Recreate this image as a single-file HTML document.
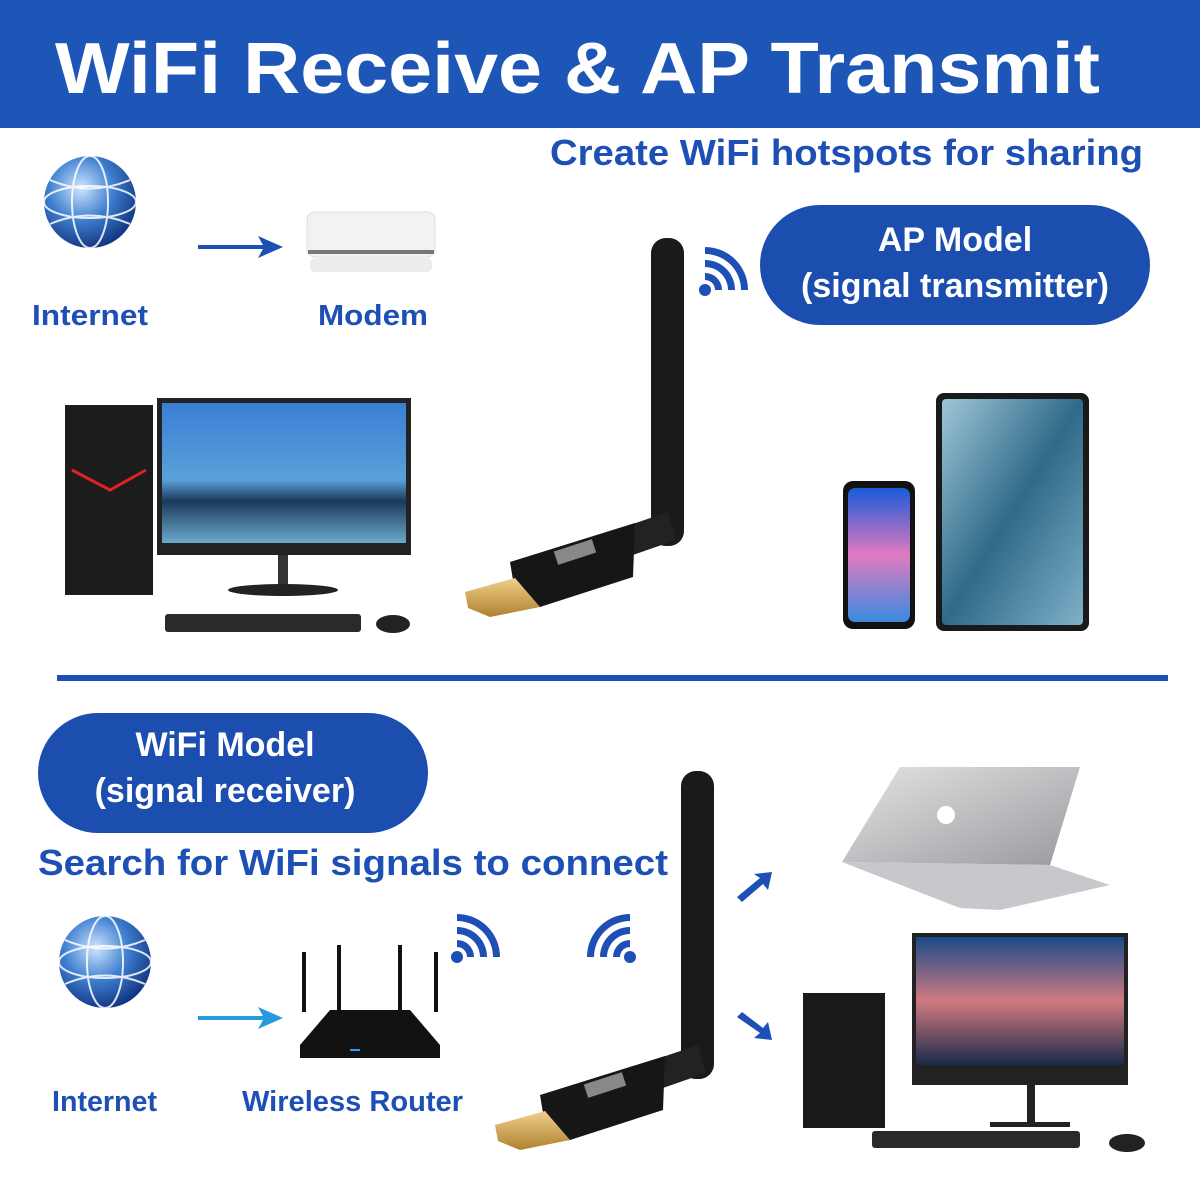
<!DOCTYPE html>
<html><head><meta charset="utf-8"><style>
html,body{margin:0;padding:0;background:#fff;}
svg{display:block}
text{font-family:"Liberation Sans",Arial,sans-serif;font-weight:bold}
</style></head><body>
<svg width="1200" height="1200" viewBox="0 0 1200 1200" xmlns="http://www.w3.org/2000/svg">
<defs>
<radialGradient id="glb" cx="0.4" cy="0.35" r="0.7"><stop offset="0" stop-color="#cfe6ff"/><stop offset="0.5" stop-color="#3f7fd0"/><stop offset="1" stop-color="#0d2f7a"/></radialGradient>
<linearGradient id="scr1" x1="0" y1="0" x2="0" y2="1"><stop offset="0" stop-color="#3b7fd6"/><stop offset="0.55" stop-color="#5aa0d8"/><stop offset="0.7" stop-color="#1c3a5a"/><stop offset="1" stop-color="#6aa9cc"/></linearGradient>
<linearGradient id="scr2" x1="0" y1="0" x2="0" y2="1"><stop offset="0" stop-color="#1a4a8a"/><stop offset="0.5" stop-color="#d07a80"/><stop offset="1" stop-color="#1a2a4a"/></linearGradient>
<linearGradient id="tab" x1="0" y1="0" x2="1" y2="1"><stop offset="0" stop-color="#9fc6d8"/><stop offset="0.5" stop-color="#2f6a88"/><stop offset="1" stop-color="#7fb0c8"/></linearGradient>
<linearGradient id="ph" x1="0" y1="0" x2="0" y2="1"><stop offset="0" stop-color="#1a5ad8"/><stop offset="0.5" stop-color="#e07ac0"/><stop offset="1" stop-color="#3a8ae0"/></linearGradient>
<linearGradient id="lap" x1="0" y1="0" x2="1" y2="1"><stop offset="0" stop-color="#e4e4e6"/><stop offset="1" stop-color="#9a9a9e"/></linearGradient>
<linearGradient id="gold" x1="0" y1="0" x2="0" y2="1"><stop offset="0" stop-color="#f0d08a"/><stop offset="1" stop-color="#b08030"/></linearGradient>
<g id="wifi" fill="#1d4fb5"><circle cx="0" cy="0" r="6"/><path d="M0,-17 A17,17 0 0 1 17,0 L10,0 A10,10 0 0 0 0,-10Z"/><path d="M0,-30 A30,30 0 0 1 30,0 L23,0 A23,23 0 0 0 0,-23Z"/><path d="M0,-43 A43,43 0 0 1 43,0 L36,0 A36,36 0 0 0 0,-36Z"/></g>
<g id="globe"><circle r="46" fill="url(#glb)"/><g fill="none" stroke="#fff" stroke-width="2" opacity="0.85"><ellipse rx="46" ry="16"/><ellipse rx="18" ry="46"/><path d="M-40,-22 Q0,-5 40,-22 M-40,22 Q0,5 40,22"/></g></g>
<g id="ant">
<rect x="651" y="238" width="33" height="308" rx="15" fill="#1a1a1a"/>
<path d="M615,530 L668,512 L676,540 L630,556 Z" fill="#222"/>
<path d="M510,562 L635,523 L633,577 L540,607 L515,592 Z" fill="#161616"/>
<path d="M465,592 L515,578 L540,607 L490,617 L468,608 Z" fill="url(#gold)"/>
<rect x="555" y="545" width="40" height="14" fill="#888" transform="rotate(-18 575 552)"/>
</g>
</defs>
<rect x="0" y="0" width="1200" height="128" fill="#1e56b8"/>
<text x="55" y="93" font-size="72" fill="#fff" textLength="1045" lengthAdjust="spacingAndGlyphs">WiFi Receive &amp; AP Transmit</text>
<text x="550" y="165" font-size="36" fill="#1d4fb5" textLength="593" lengthAdjust="spacingAndGlyphs">Create WiFi hotspots for sharing</text>
<use href="#globe" x="90" y="202"/>
<line x1="198" y1="247" x2="270" y2="247" stroke="#1d4fb5" stroke-width="4"/><path d="M283,247 L258,236 L264,247 L258,258Z" fill="#1d4fb5"/>
<rect x="307" y="212" width="128" height="45" rx="8" fill="#f2f2f2" stroke="#ddd"/><rect x="308" y="250" width="126" height="4" fill="#777"/><rect x="310" y="258" width="122" height="14" rx="5" fill="#ececec"/>
<text x="32" y="325" font-size="29" fill="#1d4fb5" textLength="116" lengthAdjust="spacingAndGlyphs">Internet</text>
<text x="318" y="325" font-size="29" fill="#1d4fb5" textLength="110" lengthAdjust="spacingAndGlyphs">Modem</text>
<use href="#wifi" x="705" y="290"/>
<rect x="760" y="205" width="390" height="120" rx="60" fill="#1c4eb0"/>
<text x="955" y="251" font-size="34" fill="#fff" text-anchor="middle">AP Model</text>
<text x="955" y="297" font-size="34" fill="#fff" text-anchor="middle">(signal transmitter)</text>
<use href="#ant"/>
<rect x="65" y="405" width="88" height="190" fill="#1c1c1c"/><path d="M72,470 L110,490 L146,470" stroke="#d22" stroke-width="3" fill="none"/>
<rect x="157" y="398" width="254" height="157" fill="#222"/><rect x="162" y="403" width="244" height="140" fill="url(#scr1)"/>
<rect x="278" y="555" width="10" height="30" fill="#333"/><ellipse cx="283" cy="590" rx="55" ry="6" fill="#222"/>
<rect x="165" y="614" width="196" height="18" rx="3" fill="#2a2a2a"/><ellipse cx="393" cy="624" rx="17" ry="9" fill="#222"/>
<rect x="843" y="481" width="72" height="148" rx="10" fill="#111"/><rect x="848" y="488" width="62" height="134" rx="7" fill="url(#ph)"/>
<rect x="936" y="393" width="153" height="238" rx="8" fill="#1a1a1a"/><rect x="942" y="399" width="141" height="226" rx="4" fill="url(#tab)"/>
<rect x="57" y="675" width="1111" height="6" fill="#1d4fb5"/>
<rect x="38" y="713" width="390" height="120" rx="60" fill="#1c4eb0"/>
<text x="225" y="756" font-size="34" fill="#fff" text-anchor="middle">WiFi Model</text>
<text x="225" y="802" font-size="34" fill="#fff" text-anchor="middle">(signal receiver)</text>
<text x="38" y="875" font-size="36" fill="#1d4fb5" textLength="630" lengthAdjust="spacingAndGlyphs">Search for WiFi signals to connect</text>
<use href="#globe" x="105" y="962"/>
<line x1="198" y1="1018" x2="270" y2="1018" stroke="#2a9ae0" stroke-width="4"/><path d="M283,1018 L258,1007 L264,1018 L258,1029Z" fill="#2a9ae0"/>
<g fill="#111"><rect x="302" y="952" width="4" height="60"/><rect x="337" y="945" width="4" height="65"/><rect x="398" y="945" width="4" height="65"/><rect x="434" y="952" width="4" height="60"/>
<path d="M300,1045 L330,1010 L410,1010 L440,1045 L440,1058 L300,1058Z"/></g>
<rect x="350" y="1049" width="10" height="2" fill="#39f"/>
<text x="52" y="1111" font-size="29" fill="#1d4fb5" textLength="105" lengthAdjust="spacingAndGlyphs">Internet</text>
<text x="242" y="1111" font-size="29" fill="#1d4fb5" textLength="221" lengthAdjust="spacingAndGlyphs">Wireless Router</text>
<use href="#wifi" x="457" y="957"/>
<use href="#wifi" x="630" y="957" transform="translate(1260,0) scale(-1,1)"/>
<use href="#ant" transform="translate(30,533)"/>
<path d="M737,897 L760,878 L754,874 L772,872 L768,890 L763,884 L742,902Z" fill="#1d4fb5"/>
<path d="M737,1017 L760,1033 L754,1038 L772,1040 L768,1022 L763,1028 L742,1012Z" fill="#1d4fb5"/>
<path d="M900,767 L1080,767 L1050,865 L842,862Z" fill="url(#lap)"/>
<path d="M842,862 L1050,865 L1110,885 L1000,910 L960,908Z" fill="#c8c8cc"/>
<circle cx="946" cy="815" r="9" fill="#fff"/>
<rect x="803" y="993" width="82" height="135" fill="#1a1a1a"/>
<rect x="912" y="933" width="216" height="152" fill="#222"/><rect x="916" y="937" width="208" height="128" fill="url(#scr2)"/>
<rect x="1027" y="1085" width="8" height="40" fill="#222"/><rect x="990" y="1122" width="80" height="5" fill="#222"/>
<rect x="872" y="1131" width="208" height="17" rx="3" fill="#2a2a2a"/><ellipse cx="1127" cy="1143" rx="18" ry="9" fill="#222"/>
</svg>
</body></html>
